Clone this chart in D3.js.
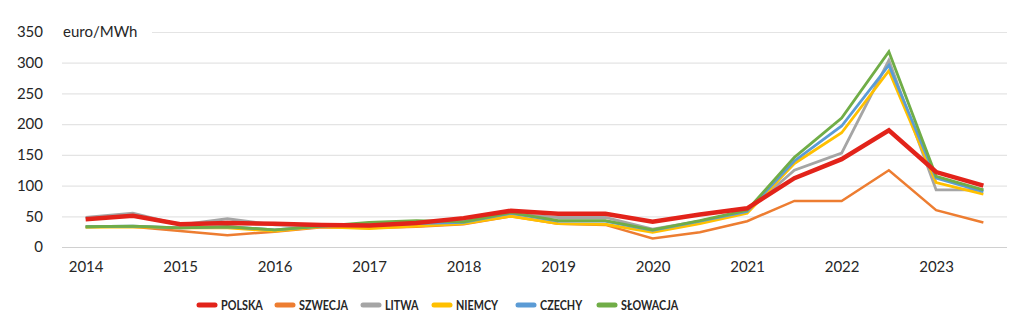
<!DOCTYPE html>
<html><head><meta charset="utf-8">
<script src="https://cdn.jsdelivr.net/npm/d3@7"></script>
<style>
html,body{margin:0;padding:0;background:#fff;}
svg{display:block;font-family:Lato,"Open Sans",sans-serif;}
</style></head>
<body><svg id="c" width="1024" height="324"></svg>
<script>
const periods = ["2014","2014H2","2015","2015H2","2016","2016H2","2017","2017H2","2018","2018H2","2019","2019H2","2020","2020H2","2021","2021H2","2022","2022H2","2023","2023H2"];
const xTickLabels = ["2014","2015","2016","2017","2018","2019","2020","2021","2022","2023"];
const yTicks = [0,50,100,150,200,250,300,350];
const seriesNames = ["POLSKA","SZWECJA","LITWA","NIEMCY","CZECHY","SŁOWACJA"];
const polska   = [45,51,37,39,38,36,35,39,47,59,54,54,41,53,63,112,143,190,122,100];
const szwecja  = [33,33,26,19,25,32,31,33,37,50,38,36,14,24,42,75,75,125,60,40];
const litwa    = [48,55,36,46,36,34,36,37,42,54,48,48,29,42,58,125,153,304,93,93];
const niemcy   = [32,33,31,31,26,33,30,34,38,50,38,37,24,38,55,136,186,287,105,86];
const czechy   = [33,34,31,33,28,34,36,38,40,55,42,42,27,42,58,140,197,296,112,90];
const slowacja = [33,34,31,33,28,34,40,43,41,56,43,43,28,43,60,146,210,318,115,93];
const seriesValues = [polska,szwecja,litwa,niemcy,czechy,slowacja];
const colors = ["#E2231A","#ED7D31","#A5A5A5","#FFC000","#5B9BD5","#70AD47"];
const widths = [4.5,2.5,2.8,2.8,2.8,2.8];

const svg = d3.select("#c");
const mLeft = 62, mRight = 1007, mTop = 32, mBottom = 247;
const x = d3.scalePoint().domain(periods).range([mLeft,mRight]).padding(0.5);
const y = d3.scaleLinear().domain([0,350]).range([mBottom,mTop]);

// gridlines
svg.append("g").selectAll("line").data(yTicks).join("line")
  .attr("x1",mLeft).attr("x2",mRight)
  .attr("y1",d=>y(d)+0.5).attr("y2",d=>y(d)+0.5)
  .attr("stroke",d=>d===0?"#d0d0d0":"#e4e4e4").attr("stroke-width",1.2);

// y axis labels
const yAxis = d3.axisLeft(y).tickValues(yTicks).tickSize(0).tickPadding(0);
const ya = svg.append("g").attr("transform","translate(43,0)").call(yAxis);
ya.select(".domain").remove();
ya.selectAll("text").attr("font-size",15).attr("fill","#262626").attr("font-family","Lato, sans-serif");

// unit label with white background
svg.append("rect").attr("x",60).attr("y",22).attr("width",92).attr("height",20).attr("fill","#fff");
svg.append("text").attr("x",63).attr("y",y(350)).attr("dy","0.35em")
  .attr("font-size",15).attr("fill","#262626").text("euro/MWh");

// x axis labels
const xAxis = d3.axisBottom(x).tickValues(periods.filter((p,i)=>i%2===0)).tickSize(0).tickPadding(0)
  .tickFormat((d,i)=>xTickLabels[i]);
const xa = svg.append("g").attr("transform","translate(0,261)").call(xAxis);
xa.select(".domain").remove();
xa.selectAll("text").attr("font-size",15).attr("fill","#262626").attr("font-family","Lato, sans-serif");

// lines
const line = d3.line().x((d,i)=>x(periods[i])).y(d=>y(d));
const order = [1,2,3,4,5,0];
svg.append("g").selectAll("path").data(order).join("path")
  .attr("d",k=>line(seriesValues[k]))
  .attr("fill","none").attr("stroke",k=>colors[k]).attr("stroke-width",k=>widths[k])
  .attr("stroke-linejoin","miter").attr("stroke-linecap","butt");

// legend
const legX = [199,277,363,434,518,599];
const lg = svg.append("g").selectAll("g").data(seriesNames).join("g")
  .attr("transform",(d,i)=>`translate(${legX[i]},305)`);
lg.append("line").attr("x1",0).attr("x2",16).attr("y1",0).attr("y2",0)
  .attr("stroke",(d,i)=>colors[i]).attr("stroke-width",5).attr("stroke-linecap","round");
lg.append("text").attr("transform","translate(22,0) scale(0.8,1)").attr("dy","0.36em")
  .attr("font-size",13.5).attr("font-weight","bold")
  .attr("fill","#262626").text(d=>d);
</script></body></html>
